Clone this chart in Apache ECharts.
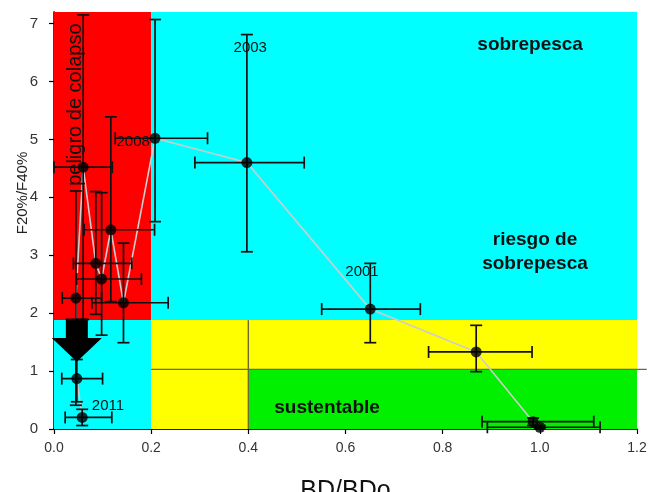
<!DOCTYPE html>
<html>
<head>
<meta charset="utf-8">
<script src="https://cdn.jsdelivr.net/npm/echarts@6/dist/echarts.min.js"></script>
<style>
  html, body { margin: 0; padding: 0; background: #fff; }
  #chart { width: 648px; height: 492px; }
</style>
</head>
<body>
<div id="chart"></div>
<script>
// puntos en orden de la linea (BD/BDo, F20%/F40%) con sus intervalos
var xVals  = [1.000, 0.986, 0.869, 0.651, 0.397, 0.208, 0.143, 0.117, 0.098, 0.086, 0.060, 0.045, 0.047, 0.058];
var yVals  = [0.03, 0.126, 1.33, 2.07, 4.60, 5.02, 2.18, 3.44, 2.59, 2.86, 4.52, 2.26, 0.87, 0.20];
var xLow   = [0.892, 0.881, 0.771, 0.551, 0.290, 0.126, 0.078, 0.062, 0.047, 0.040, 0.000, 0.017, 0.016, 0.023];
var xHigh  = [1.124, 1.111, 0.984, 0.754, 0.515, 0.316, 0.235, 0.207, 0.180, 0.160, 0.120, 0.098, 0.100, 0.119];
var yLow   = [0.00, 0.06, 0.99, 1.49, 3.06, 3.58, 1.49, 2.20, 1.62, 1.98, 1.89, 0.41, 0.47, 0.06];
var yHigh  = [0.06, 0.19, 1.79, 2.86, 6.81, 7.07, 3.21, 5.39, 4.08, 4.10, 7.15, 4.11, 1.20, 0.34];

// zonas [x0, y0, x1, y1]
var zoneNames = ['colapso', 'sobrepesca', 'bajo', 'riesgo', 'riesgo2', 'sustentable'];
var zoneBounds = [
  [0, 1.88, 0.2, 7.2],
  [0.2, 1.88, 1.2, 7.2],
  [0, 0, 0.2, 1.88],
  [0.2, 1.03, 1.2, 1.88],
  [0.2, 0, 0.4, 1.03],
  [0.4, 0, 1.2, 1.03]
];
var zoneColors = ['#ff0000', '#00ffff', '#00ffff', '#ffff00', '#ffff00', '#00f000'];

// lineas de referencia [x1, y1, x2, y2]
var refLines = [[0.4, 0, 0.4, 1.88], [0.2, 1.03, 1.22, 1.03]];

// flecha: x, inicio, comienzo de la punta, punta
var arrow = [0.047, 1.91, 1.57, 1.16];

var xTicks = [0, 0.2, 0.4, 0.6, 0.8, 1.0, 1.2];
var yTicks = [0, 1, 2, 3, 4, 5, 6, 7];

var zoneNotes = [
  ['sobrepesca', 0.98, 6.64],
  ['riesgo de\nsobrepesca', 0.99, 3.06],
  ['sustentable', 0.562, 0.36]
];
var yearNotes = [
  ['2003', 0.404, 6.58],
  ['2008', 0.163, 4.96],
  ['2001', 0.634, 2.71],
  ['2011', 0.111, 0.40]
];
var sideNote = ['peligro de colapso', 0.045, 5.6];

var FONT = 'Arial, "Liberation Sans", sans-serif';

var chart = echarts.init(document.getElementById('chart'));

var points = xVals.map(function (x, i) { return [x, yVals[i]]; });
var errData = xVals.map(function (x, i) {
  return [x, yVals[i], xLow[i], xHigh[i], yLow[i], yHigh[i]];
});

function textItem(api, x, y, txt, font, rot) {
  var p = api.coord([x, y]);
  return {
    type: 'text', x: p[0], y: p[1], rotation: rot || 0,
    style: {
      text: txt, font: font, fill: '#111',
      align: 'center', verticalAlign: 'middle',
      textAlign: 'center', textVerticalAlign: 'middle', lineHeight: 24
    }
  };
}

chart.setOption({
  animation: false,
  grid: { left: 54, right: 11, top: 12, bottom: 63, outerBoundsMode: 'none', containLabel: false },
  xAxis: [{
    type: 'value', min: 0, max: 1.2, interval: 0.2,
    splitLine: { show: false },
    axisLine: { lineStyle: { color: '#000', width: 1.5 } },
    axisTick: { length: 5, lineStyle: { color: '#000', width: 1.2 } },
    axisLabel: {
      color: '#333', fontSize: 14, fontFamily: FONT, margin: 12,
      customValues: xTicks,
      formatter: function (v) { return v.toFixed(1); }
    },
    name: 'BD/BDo', nameLocation: 'middle', nameGap: 50,
    nameTextStyle: { fontSize: 25, fontFamily: FONT, color: '#111' }
  }, {
    type: 'value', position: 'top', min: 0, max: 1.2,
    axisLine: { show: true, lineStyle: { color: '#222', width: 1 } },
    axisTick: { show: false }, axisLabel: { show: false }, splitLine: { show: false }
  }],
  yAxis: [{
    type: 'value', min: 0, max: 7.2,
    splitLine: { show: false },
    axisLine: { show: true, lineStyle: { color: '#000', width: 1.5 } },
    axisTick: { show: true, length: 5, customValues: yTicks, lineStyle: { color: '#000', width: 1.2 } },
    axisLabel: { color: '#333', fontSize: 15, fontFamily: FONT, margin: 16, customValues: yTicks }
  }, {
    type: 'value', position: 'right', min: 0, max: 7.2,
    axisLine: { show: true, lineStyle: { color: '#222', width: 1 } },
    axisTick: { show: false }, axisLabel: { show: false }, splitLine: { show: false }
  }],
  graphic: [{
    type: 'text', x: 23, y: 193, rotation: Math.PI / 2,
    style: {
      text: 'F20%/F40%', font: '15px ' + FONT, fill: '#222',
      align: 'center', verticalAlign: 'middle',
      textAlign: 'center', textVerticalAlign: 'middle'
    }
  }],
  series: [
    {
      type: 'custom', z: 1, silent: true,
      data: zoneBounds.map(function (b, i) { return b.concat([i]); }),
      encode: { x: [0, 2], y: [1, 3] },
      renderItem: function (params, api) {
        var p0 = api.coord([api.value(0), api.value(3)]);
        var p1 = api.coord([api.value(2), api.value(1)]);
        return {
          type: 'rect',
          shape: { x: p0[0], y: p0[1], width: p1[0] - p0[0], height: p1[1] - p0[1] },
          style: { fill: zoneColors[api.value(4)] }
        };
      }
    },
    {
      type: 'custom', z: 2, silent: true, clip: false,
      data: refLines,
      encode: { x: [0, 2], y: [1, 3] },
      renderItem: function (params, api) {
        var a = api.coord([api.value(0), api.value(1)]);
        var b = api.coord([api.value(2), api.value(3)]);
        return {
          type: 'line', shape: { x1: a[0], y1: a[1], x2: b[0], y2: b[1] },
          style: { stroke: '#6d6a3a', lineWidth: 1.4 }
        };
      }
    },
    {
      type: 'line', z: 3, data: points, showSymbol: false, silent: true,
      lineStyle: { color: '#cccccc', width: 1.6 }
    },
    {
      type: 'custom', z: 4, silent: true,
      data: errData,
      encode: { x: [0, 2, 3], y: [1, 4, 5] },
      renderItem: function (params, api) {
        var y = api.value(1), x = api.value(0);
        var l = api.coord([api.value(2), y]);
        var r = api.coord([api.value(3), y]);
        var b = api.coord([x, api.value(4)]);
        var t = api.coord([x, api.value(5)]);
        var cap = 6;
        var st = { stroke: '#111', lineWidth: 1.7 };
        function seg(x1, y1, x2, y2) {
          return { type: 'line', shape: { x1: x1, y1: y1, x2: x2, y2: y2 }, style: st };
        }
        return {
          type: 'group',
          children: [
            seg(l[0], l[1], r[0], r[1]),
            seg(l[0], l[1] - cap, l[0], l[1] + cap),
            seg(r[0], r[1] - cap, r[0], r[1] + cap),
            seg(b[0], b[1], t[0], t[1]),
            seg(b[0] - cap, b[1], b[0] + cap, b[1]),
            seg(t[0] - cap, t[1], t[0] + cap, t[1])
          ]
        };
      }
    },
    {
      type: 'scatter', z: 5, data: points, symbol: 'circle', symbolSize: 11,
      itemStyle: { color: '#000' }, silent: true
    },
    {
      type: 'custom', z: 6, silent: true,
      data: [arrow],
      encode: { x: 0, y: [1, 3] },
      renderItem: function (params, api) {
        var top = api.coord([api.value(0), api.value(1)]);
        var mid = api.coord([api.value(0), api.value(2)]);
        var tip = api.coord([api.value(0), api.value(3)]);
        var cx = top[0], sw = 11, hw = 25;
        return {
          type: 'polygon',
          shape: { points: [
            [cx - sw, top[1]], [cx + sw, top[1]], [cx + sw, mid[1]], [cx + hw, mid[1]],
            [cx, tip[1]], [cx - hw, mid[1]], [cx - sw, mid[1]]
          ] },
          style: { fill: '#000' }
        };
      }
    },
    {
      type: 'custom', z: 7, silent: true, clip: false,
      data: [0],
      encode: { x: 0, y: 0 },
      renderItem: function (params, api) {
        var kids = [];
        zoneNotes.forEach(function (n) {
          kids.push(textItem(api, n[1], n[2], n[0], 'bold 19px ' + FONT));
        });
        yearNotes.forEach(function (n) {
          kids.push(textItem(api, n[1], n[2], n[0], '15px ' + FONT));
        });
        kids.push(textItem(api, sideNote[1], sideNote[2], sideNote[0], '20px ' + FONT, Math.PI / 2));
        return { type: 'group', children: kids };
      }
    }
  ]
});
</script>
</body>
</html>
